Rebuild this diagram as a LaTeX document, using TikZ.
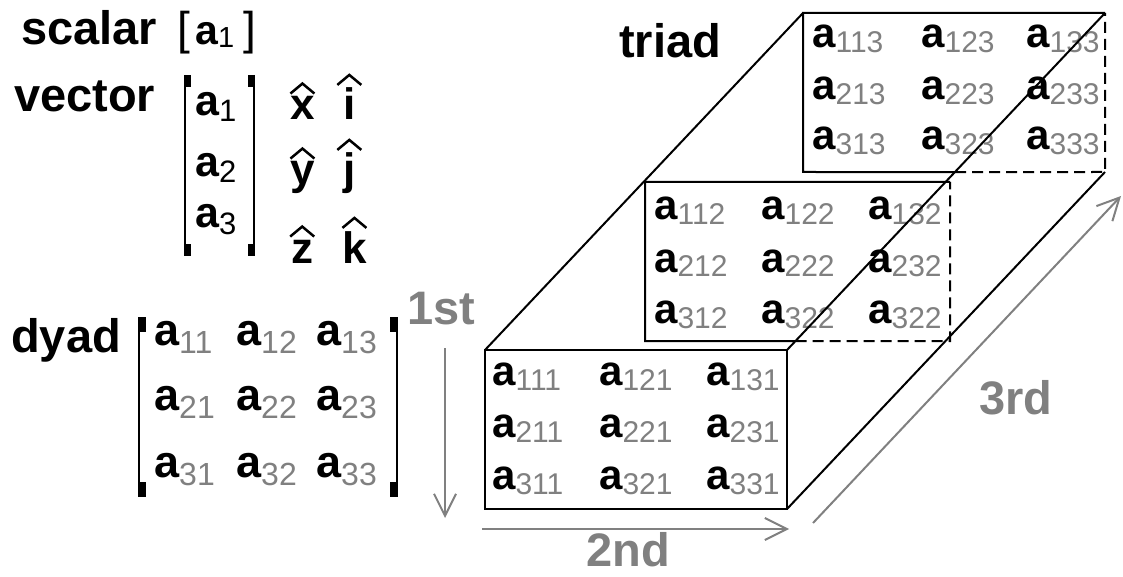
\documentclass[tikz,border=0pt]{standalone}
\usepackage{fontspec}
\setmainfont{Liberation Sans}
\usetikzlibrary{arrows.meta,calc}
\definecolor{gr}{HTML}{808080}

% entry macros
\newcommand\tent[1]{{\fontsize{42}{42}\selectfont\bfseries a}\raisebox{-5pt}{\fontsize{30}{30}\selectfont\color{gr}#1}}
\newcommand\dent[1]{{\fontsize{45}{45}\selectfont\bfseries a}\raisebox{-8pt}{\fontsize{32}{32}\selectfont\color{gr}#1}}
\newcommand\vent[1]{{\fontsize{43}{43}\selectfont\bfseries a}\raisebox{-6pt}{\fontsize{31}{31}\selectfont #1}}
\newcommand\sent[1]{{\fontsize{41}{41}\selectfont\bfseries a}\raisebox{-3pt}{\fontsize{29}{29}\selectfont #1}}

\tikzset{
  lbl/.style={inner sep=0pt, anchor=base west, font=\fontsize{47}{47}\selectfont\bfseries},
  ord/.style={lbl, text=gr},
  ent/.style={inner sep=0pt, anchor=base west},
  hl/.style={ent, font=\fontsize{44}{44}\selectfont\bfseries},
  edge/.style={line width=2pt, black},
  hid/.style={edge, dash pattern=on 11pt off 6pt},
  garr/.style={line width=2pt, draw=gr, -{Straight Barb[length=22pt,width=22pt]}},
  hatline/.style={line width=2.5pt, line join=miter},
  brk/.style={line width=2.5pt},
}

\begin{document}
\begin{tikzpicture}[x=1pt,y=-1pt]
\useasboundingbox (0,0) rectangle (1123,577);

% ---- labels
\node[lbl] (scalar) at (21,45) {scalar};
\node[lbl] (vector) at (14,112) {vector};
\node[lbl] (dyad)   at (11,352) {dyad};
\node[lbl] (triad)  at (619,58) {triad};

% ---- scalar
\node[ent, font=\fontsize{46}{46}\selectfont] (sl) at (177,45) {[};
\node[ent] (sa) at (195,45) {\sent{1}};
\node[ent, font=\fontsize{46}{46}\selectfont] (sr) at (243,45) {]};

% ---- vector
\draw[brk] (185,75) -- (185,256);
\fill (183.75,75) rectangle (191,87);
\fill (183.75,244) rectangle (191,256);
\draw[brk] (254,75) -- (254,256);
\fill (248,75) rectangle (255.25,87);
\fill (248,244) rectangle (255.25,256);
\node[ent] (v1) at (195,116) {\vent{1}};
\node[ent] (v2) at (195,177) {\vent{2}};
\node[ent] (v3) at (195,228) {\vent{3}};

% ---- unit vectors with hats
\node[hl] (hx) at (290,120) {x};
\node[hl] (hi) at (343,120) {i};
\node[hl] (hy) at (290,185) {y};
\node[hl] (hj) at (343,185) {j};
\node[hl] (hz) at (291,263) {z};
\node[hl] (hk) at (342,263) {k};
\foreach \n in {hx,hi,hy,hj,hz,hk}{
  \draw[hatline] ($(\n.north)+(-12,-3)$) -- ($(\n.north)+(0,-13)$) -- ($(\n.north)+(12,-3)$);
}

% ---- dyad
\draw[brk] (139,317) -- (139,497);
\fill (137.75,317) rectangle (146,332);
\fill (137.75,482) rectangle (146,497);
\draw[brk] (397,317) -- (397,497);
\fill (390,317) rectangle (398.25,332);
\fill (390,482) rectangle (398.25,497);
\foreach \r/\yy in {1/345,2/410,3/477}{
  \foreach \c/\xx in {1/154,2/236,3/316}{
    \node[ent] (d\r\c) at (\xx,\yy) {\dent{\r\c}};
  }
}

% ---- 1st arrow
\node[ord] (first) at (407,324) {1st};
\coordinate (a1s) at (445,348);
\coordinate (a1e) at (445,518);
\draw[garr] (a1s) -- (a1e);

% ---- box corners
\coordinate (F1) at (485,350); \coordinate (F2) at (787,350);
\coordinate (F3) at (787,509); \coordinate (F4) at (485,509);
\coordinate (M1) at (645,182); \coordinate (M2) at (950,182);
\coordinate (M3) at (950,341); \coordinate (M4) at (645,341);
\coordinate (B1) at (803,13);  \coordinate (B2) at (1105,13);
\coordinate (B3) at (1105,172); \coordinate (B4) at (803,172);
\coordinate (PM) at (intersection of F2--B2 and M4--M3);
\coordinate (PB) at (intersection of F2--B2 and B4--B3);

% ---- entries: front (k=1)
\foreach \r/\yo in {1/35,2/87,3/139}{
  \foreach \c/\xo in {1/7,2/114,3/221}{
    \node[ent] (f\r\c) at ({485+\xo},{350+\yo}) {\tent{\r\c1}};
  }
}
% middle (k=2), as printed
\foreach \r/\c/\t/\xo/\yo in {1/1/112/9/38,1/2/122/116/38,1/3/132/223/38,
                              2/1/212/9/90,2/2/222/116/90,2/3/232/223/90,
                              3/1/312/9/141,3/2/322/116/141,3/3/322/223/141}{
  \node[ent] (m\r\c) at ({645+\xo},{182+\yo}) {\tent{\t}};
}
% back (k=3)
\foreach \r/\yo in {1/35,2/87,3/137}{
  \foreach \c/\xo in {1/9,2/118,3/223}{
    \node[ent] (b\r\c) at ({803+\xo},{13+\yo}) {\tent{\r\c3}};
  }
}

% ---- box edges
\draw[edge] (F1) rectangle (F3);
\draw[edge] (PM) -- (M4) -- (M1) -- (M2);
\draw[hid] (PM) -- (M3) -- (M2);
\draw[edge] (PB) -- (B4) -- (B1) -- (B2);
\draw[hid] (PB) -- (B3) -- (B2);
\draw[edge] (F1) -- (B1);
\draw[edge] (F2) -- (B2);
\draw[edge] (F3) -- (B3);

% ---- 2nd arrow
\coordinate (a2s) at (482,529);
\coordinate (a2e) at (789,529);
\draw[garr] (a2s) -- (a2e);
\node[ord] (second) at (586,566) {2nd};

% ---- 3rd arrow
\coordinate (a3s) at (813,523);
\coordinate (a3e) at (1121,196);
\draw[garr] (a3s) -- (a3e);
\node[ord] (third) at (979,414) {3rd};
\end{tikzpicture}
\end{document}
